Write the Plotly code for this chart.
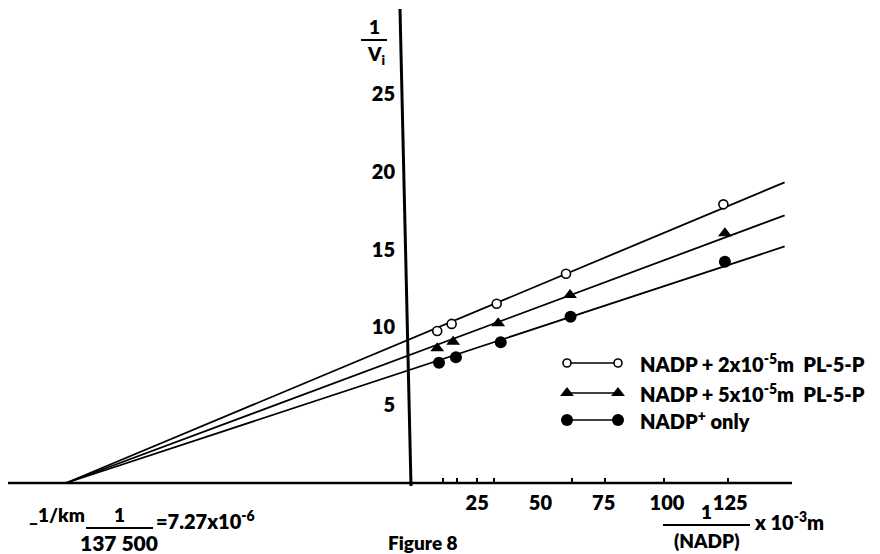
import plotly.graph_objects as go
import numpy as np

# ---------------- data ----------------
x_open = [9.2, 14.9, 32.7, 60.1, 122.3]
y_open = [9.77, 10.23, 11.53, 13.46, 17.92]
x_tri = [9.2, 15.5, 33.3, 61.7, 122.9]
y_tri = [8.66, 9.09, 10.27, 12.09, 16.06]
x_fill = [9.9, 16.6, 34.3, 61.9, 122.9]
y_fill = [7.74, 8.08, 9.05, 10.69, 14.23]
neg_inv_km = -137.5          # -1/Km  (x 10^3 m^-1)
fit_x_end = 146.5

x_tick_vals = [25, 50, 75, 100, 125]
x_tick_text = ["25", "50", "75", "100", "125"]
x_tick_marks = [11.5, 17, 25, 31.5, 62.5, 75.5, 99, 124]
y_tick_vals = [5, 10, 15, 20, 25]
y_tick_text = ["5", "10", "15", "20", "25"]

legend_labels = ["NADP + 2x10<sup>-5</sup>m  PL-5-P",
                 "NADP + 5x10<sup>-5</sup>m  PL-5-P",
                 "NADP<sup>+</sup> only"]

# ---------------- layout constants ----------------
W, H = 880, 554
FONT = "Lato"
WEIGHT = 800
X_RANGE = [-163.6, 184.2]
Y_RANGE = [-4.566, 31.06]


def fx(p):
    return p / W


def fy(p):
    return 1 - p / H


def fit_line(xs, ys):
    xs = np.asarray(xs) + (-neg_inv_km)
    ys = np.asarray(ys)
    s = float((xs * ys).sum() / (xs * xs).sum())
    xl = [neg_inv_km, fit_x_end]
    yl = [s * (v - neg_inv_km) for v in xl]
    return xl, yl


fig = go.Figure()

series = [
    (x_open, y_open, dict(symbol="circle", size=9, color="white",
                          line=dict(color="black", width=1.6))),
    (x_tri, y_tri, dict(symbol="triangle-up", size=12, color="black",
                        line=dict(color="black", width=0))),
    (x_fill, y_fill, dict(symbol="circle", size=12, color="black",
                          line=dict(color="black", width=0))),
]

for xs, ys, mk in series:
    xl, yl = fit_line(xs, ys)
    fig.add_trace(go.Scatter(x=xl, y=yl, mode="lines",
                             line=dict(color="black", width=1.8),
                             showlegend=False, hoverinfo="skip"))
for xs, ys, mk in series:
    fig.add_trace(go.Scatter(x=xs, y=ys, mode="markers", marker=mk,
                             showlegend=False))

# ---------------- custom legend (overlay pixel axes) ----------------
leg_rows = [363, 393, 420]
leg_x = [567, 618]
leg_text_x = 638
leg_markers = [
    dict(symbol="circle", size=8, color="white", line=dict(color="black", width=1.6)),
    dict(symbol="triangle-up", size=12, color="black", line=dict(width=0)),
    dict(symbol="circle", size=12, color="black", line=dict(width=0)),
]
for mk, row, lab in zip(leg_markers, leg_rows, legend_labels):
    fig.add_trace(go.Scatter(x=leg_x, y=[row, row], mode="lines+markers",
                             marker=mk, line=dict(color="black", width=1.6),
                             xaxis="x2", yaxis="y2", showlegend=False,
                             hoverinfo="skip"))
    fig.add_annotation(x=fx(leg_text_x), y=fy(row), xref="paper", yref="paper",
                       text=lab, showarrow=False, xanchor="left", yanchor="middle",
                       font=dict(family=FONT, size=20, color="black", weight=WEIGHT))


def ann(text, x, y, xanchor="center", size=19, yanchor="middle"):
    fig.add_annotation(x=fx(x), y=fy(y), xref="paper", yref="paper", text=text,
                       showarrow=False, xanchor=xanchor, yanchor=yanchor,
                       font=dict(family=FONT, size=size, color="black", weight=WEIGHT))


# y-axis title 1/Vi
ann("1", 374, 26)
ann("V<sub>i</sub>", 376, 55)
# -1/km annotation
ann("_1/km", 27, 514, xanchor="left", size=19)
ann("1", 119, 514)
ann("137 500", 119, 542, size=21)
ann("=7.27x10<sup>-6</sup>", 154, 520, xanchor="left", size=20)
# x-axis title
ann("1", 706, 511)
ann("(NADP)", 707, 540)
ann("x 10<sup>-3</sup>m", 752, 521, xanchor="left", size=20)
# caption at the bottom edge
ann("Figure 8", 386, 556, xanchor="left", size=19, yanchor="bottom")

shapes = [
    # y axis line
    dict(type="line", xref="paper", yref="paper", x0=fx(400), y0=fy(9),
         x1=fx(411), y1=fy(486), line=dict(color="black", width=3)),
    # x axis line
    dict(type="line", xref="paper", yref="y", x0=fx(8), y0=0, x1=fx(792), y1=0,
         line=dict(color="black", width=2.5)),
    # fraction bars
    dict(type="line", xref="paper", yref="paper", x0=fx(361), y0=fy(40),
         x1=fx(387), y1=fy(40), line=dict(color="black", width=2)),
    dict(type="line", xref="paper", yref="paper", x0=fx(86), y0=fy(528),
         x1=fx(153), y1=fy(528), line=dict(color="black", width=2)),
    dict(type="line", xref="paper", yref="paper", x0=fx(663), y0=fy(525),
         x1=fx(750), y1=fy(525), line=dict(color="black", width=2)),
]

tick_font = dict(family=FONT, size=20, color="black", weight=WEIGHT)

fig.update_layout(
    width=W, height=H,
    margin=dict(l=0, r=0, t=0, b=0, pad=0),
    paper_bgcolor="white", plot_bgcolor="white",
    shapes=shapes,
    xaxis=dict(range=X_RANGE, anchor="free", position=(H - 483) / H,
               showgrid=False, zeroline=False, showline=False,
               tickmode="array", tickvals=x_tick_vals, ticktext=x_tick_text,
               ticks="", ticklabelstandoff=6, tickfont=tick_font,
               minor=dict(tickmode="array", tickvals=x_tick_marks, ticks="inside",
                          ticklen=5, tickwidth=2, tickcolor="black", showgrid=False),
               automargin=False, fixedrange=True),
    yaxis=dict(range=Y_RANGE, anchor="free", position=405 / W,
               showgrid=False, zeroline=False, showline=False,
               tickmode="array", tickvals=y_tick_vals, ticktext=y_tick_text,
               ticks="", ticklabelstandoff=10, tickfont=tick_font,
               automargin=False, fixedrange=True),
    xaxis2=dict(range=[0, W], overlaying="x", anchor="y2", visible=False,
                fixedrange=True),
    yaxis2=dict(range=[H, 0], overlaying="y", anchor="x2", visible=False,
                fixedrange=True),
    showlegend=False,
)

fig.write_html("out.html")
